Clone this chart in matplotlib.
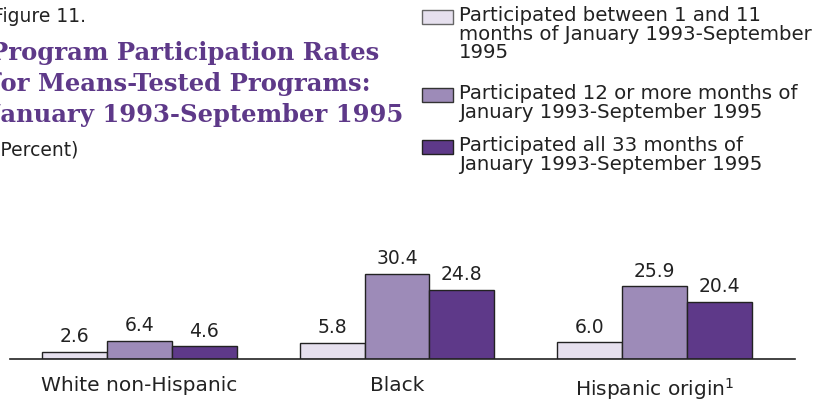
import matplotlib.pyplot as plt
from matplotlib.patches import Rectangle
import numpy as np

# data
groups = ['White non-Hispanic', 'Black', 'Hispanic origin$^{1}$']
series = ['Participated between 1 and 11\nmonths of January 1993-September\n1995',
          'Participated 12 or more months of\nJanuary 1993-September 1995',
          'Participated all 33 months of\nJanuary 1993-September 1995']
short_term = [2.6, 5.8, 6.0]
long_term = [6.4, 30.4, 25.9]
all_months = [4.6, 24.8, 20.4]

colors = ['#e6e0ee', '#9d8bb8', '#5e3989']
purple = '#5e3989'

plt.rcParams['font.family'] = ['DejaVu Sans']

fig = plt.figure(figsize=(8.22, 4.0), dpi=100)
ax = fig.add_axes([10 / 822, 41 / 400, 785 / 822, 112 / 400])

x = np.arange(len(groups))
w = 0.252
for i, vals in enumerate([short_term, long_term, all_months]):
    ax.bar(x + (i - 1) * w, vals, w, color=colors[i], edgecolor='#222222',
           linewidth=1.0, label=series[i])
    for xi, v in zip(x + (i - 1) * w, vals):
        ax.text(xi, v + 2.0, f'{v:.1f}', ha='center', va='bottom', fontsize=13.5,
                color='#222222')

ax.set_xlim(-0.503, 2.546)
ax.set_ylim(0, 40)
ax.set_xticks(x)
ax.set_xticklabels(groups, fontsize=14.5, color='#222222')
ax.tick_params(axis='x', length=0, pad=12)
ax.set_yticks([])
for s in ['top', 'right', 'left']:
    ax.spines[s].set_visible(False)
ax.spines['bottom'].set_linewidth(1.2)
ax.spines['bottom'].set_color('#222222')
ax.patch.set_alpha(0)

# title block
fig.text(-7 / 822, 1 - 16 / 400, 'Figure 11.', fontsize=13.5, color='#222222', va='center')
title = 'Program Participation Rates\nfor Means-Tested Programs:\nJanuary 1993-September 1995'
fig.text(-10 / 822, 1 - 84 / 400, title, fontsize=17.5, fontweight='bold',
         family='DejaVu Serif', color=purple, va='center', linespacing=1.37)
fig.text(-7 / 822, 1 - 150 / 400, '(Percent)', fontsize=13.5, color='#222222', va='center')

# legend: square lined up with the first line of each label
tops = [10, 88, 140]  # px from top
edges = ['#666666', '#333333', '#222222']
for lab, col, ec, top in zip(series, colors, edges, tops):
    fig.add_artist(Rectangle((422 / 822, 1 - (top + 14) / 400), 31 / 822, 14 / 400,
                             transform=fig.transFigure, facecolor=col,
                             edgecolor=ec, linewidth=1.0))
    fig.text(459 / 822, 1 - (top - 4) / 400, lab, fontsize=14.2, color='#222222',
             va='top', ha='left', linespacing=0.97)

fig.savefig('out.png', dpi=100)
